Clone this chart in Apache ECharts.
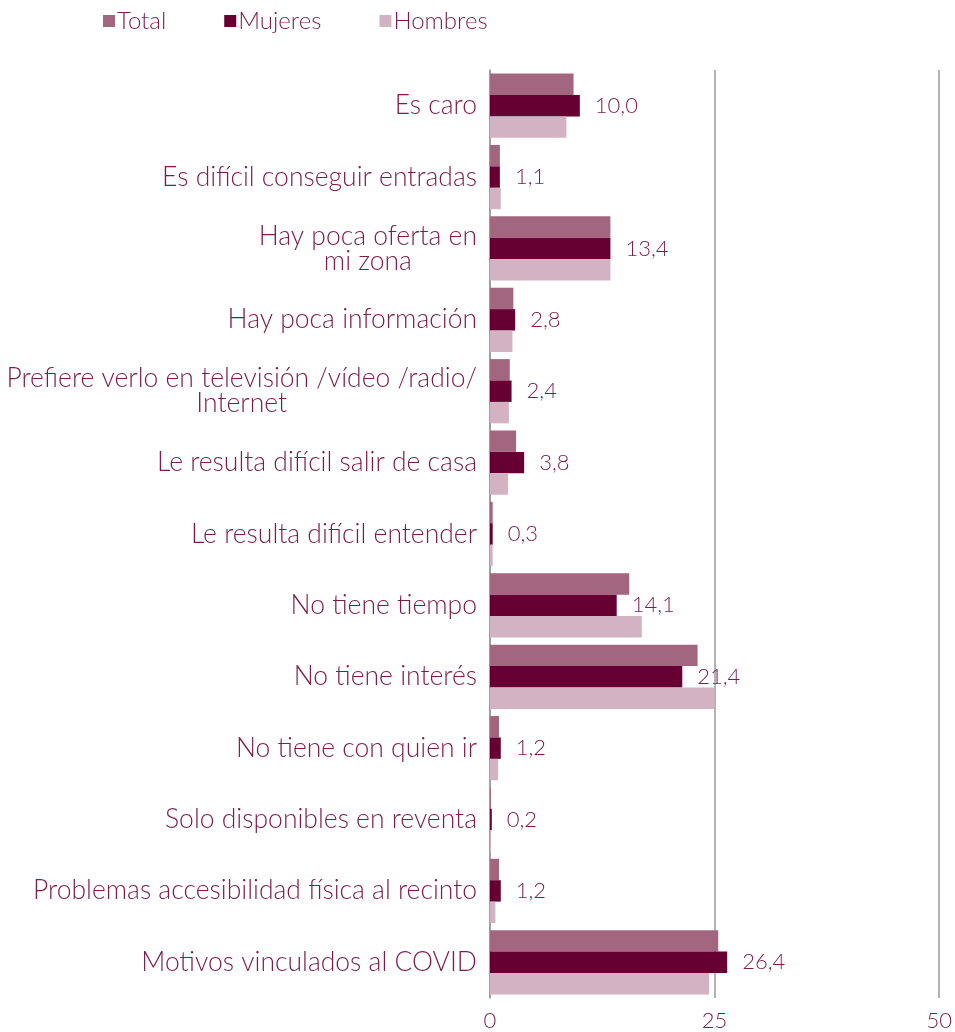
<!DOCTYPE html>
<html>
<head>
<meta charset="utf-8">
<script src="https://cdn.jsdelivr.net/npm/echarts@6/dist/echarts.min.js"></script>
<style>
  html, body { margin: 0; padding: 0; background: #fff; }
  #chart { width: 955px; height: 1032px; }
</style>
</head>
<body>
<div id="chart"></div>
<script>
// categorias (de arriba a abajo)
const categorias = [
  'Es caro',
  'Es difícil conseguir entradas',
  'Hay poca oferta en\nmi zona',
  'Hay poca información',
  'Prefiere verlo en televisión /vídeo /radio/\nInternet',
  'Le resulta difícil salir de casa',
  'Le resulta difícil entender',
  'No tiene tiempo',
  'No tiene interés',
  'No tiene con quien ir',
  'Solo disponibles en reventa',
  'Problemas accesibilidad física al recinto',
  'Motivos vinculados al COVID'
];
const total   = [9.3, 1.1, 13.4, 2.6, 2.2, 2.9, 0.3, 15.5, 23.1, 1.0, 0.1, 1.0, 25.4];
const mujeres = [10.0, 1.1, 13.4, 2.8, 2.4, 3.8, 0.3, 14.1, 21.4, 1.2, 0.2, 1.2, 26.4];
const hombres = [8.5, 1.2, 13.4, 2.5, 2.1, 2.0, 0.3, 16.9, 25.0, 0.9, 0.1, 0.6, 24.4];
const ticksX = [0, 25, 50];

const colorTexto = '#7a1d4c';
const fuente = 'Lato';
const peso = 300;

let myChart = echarts.init(document.getElementById('chart'));
let option = {
  animation: false,
  textStyle: { fontFamily: fuente },
  legend: {
    top: 4,
    left: 98,
    itemWidth: 12,
    itemHeight: 12,
    itemGap: 58,
    icon: 'rect',
    textStyle: { color: colorTexto, fontSize: 24, fontFamily: fuente, fontWeight: peso, padding: [0, 0, 0, -3] },
    data: ['Total', 'Mujeres', 'Hombres']
  },
  grid: {
    left: 490,
    right: 15,
    top: 70,
    bottom: 34,
    containLabel: false
  },
  xAxis: {
    type: 'value',
    min: ticksX[0],
    max: ticksX[ticksX.length - 1],
    interval: 25,
    axisLine: { show: false },
    axisTick: { show: false },
    axisLabel: { color: colorTexto, fontSize: 22, fontFamily: fuente, fontWeight: peso, margin: 12 },
    splitLine: { show: true, lineStyle: { color: '#9a9a9a', width: 1.5 } }
  },
  yAxis: {
    type: 'category',
    inverse: true,
    data: categorias,
    axisLine: { show: true, lineStyle: { color: '#9a9a9a', width: 1.5 } },
    axisTick: { show: false },
    axisLabel: {
      color: colorTexto,
      fontSize: 26.5,
      fontFamily: fuente,
      fontWeight: peso,
      margin: 13,
      lineHeight: 25,
      formatter: function (v) {
        return v.split('\n').map(function (l) { return '{c|' + l + '}'; }).join('\n');
      },
      rich: {
        c: { align: 'center', color: colorTexto, fontSize: 26.5, fontFamily: fuente, fontWeight: peso, lineHeight: 25 }
      }
    }
  },
  series: [
    {
      name: 'Total',
      type: 'bar',
      data: total,
      barGap: '0%',
      barCategoryGap: '10%',
      itemStyle: { color: '#a3667f' }
    },
    {
      name: 'Mujeres',
      type: 'bar',
      data: mujeres,
      barGap: '0%',
      barCategoryGap: '10%',
      itemStyle: { color: '#660033' },
      label: {
        show: true,
        position: 'right',
        distance: 15,
        color: colorTexto,
        fontSize: 22,
        fontFamily: fuente,
        fontWeight: peso,
        formatter: function (p) { return p.value.toFixed(1).replace('.', ','); }
      }
    },
    {
      name: 'Hombres',
      type: 'bar',
      data: hombres,
      barGap: '0%',
      barCategoryGap: '10%',
      itemStyle: { color: '#d3b2c2' }
    }
  ]
};
option && myChart.setOption(option);
</script>
</body>
</html>
